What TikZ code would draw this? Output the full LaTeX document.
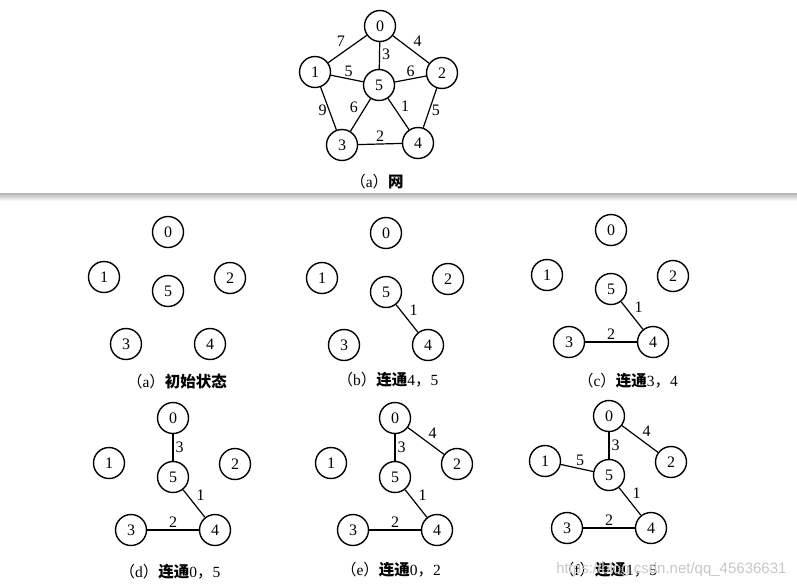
\documentclass[tikz,border=0pt]{standalone}
\usepackage{fontspec}
\setmainfont{Liberation Serif}
\newfontfamily\cjk{Noto Sans CJK SC}
\newfontfamily\wmfont{Liberation Sans}
\newcommand{\zh}[1]{{\cjk #1}}
\begin{document}
\begin{tikzpicture}[x=1pt,y=-1pt,
  vtx/.style={draw,circle,line width=1.4pt,minimum size=31pt,inner sep=0pt,
              font=\fontsize{16}{16}\selectfont},
  edge/.style={line width=1.2pt},
  lbl/.style={inner sep=2pt,font=\fontsize{16}{16}\selectfont},
  captext/.style={font=\fontsize{15.5}{17}\selectfont},
]
\useasboundingbox (0,0) rectangle (797,587);
\fill[top color=black!30,bottom color=white] (0,193) rectangle (797,201);

% the network
\node[vtx] (n0) at (380,26) {0};
\node[vtx] (n1) at (315,72) {1};
\node[vtx] (n2) at (442,73) {2};
\node[vtx] (n3) at (342,145) {3};
\node[vtx] (n4) at (418,143) {4};
\node[vtx] (n5) at (379,85) {5};
\draw[edge] (n0) -- node[lbl,above left] {7} (n1);
\draw[edge] (n0) -- node[lbl,above right] {4} (n2);
\draw[edge] (n0) -- node[lbl,right,pos=0.45] {3} (n5);
\draw[edge] (n1) -- node[lbl,above,pos=0.55] {5} (n5);
\draw[edge] (n5) -- node[lbl,above] {6} (n2);
\draw[edge] (n1) -- node[lbl,left,pos=0.55] {9} (n3);
\draw[edge] (n5) -- node[lbl,above left] {6} (n3);
\draw[edge] (n5) -- node[lbl,above right] {1} (n4);
\draw[edge] (n2) -- node[lbl,right,pos=0.55] {5} (n4);
\draw[edge] (n3) -- node[lbl,above] {2} (n4);
\node[captext] (capn) at (377,182) {\zh{（}a\zh{）\bfseries 网}};

% the six steps
\foreach \p/\x/\y in {a/168/232,b/386/233,c/611/230,d/173/418,e/395/418,f/609/416}{
  \begin{scope}[shift={(\x,\y)}]
    \node[vtx] (\p0) at (0,0) {0};
    \node[vtx] (\p1) at (-64,45) {1};
    \node[vtx] (\p2) at (62,46) {2};
    \node[vtx] (\p3) at (-42,112) {3};
    \node[vtx] (\p4) at (42,112) {4};
    \node[vtx] (\p5) at (0,59) {5};
  \end{scope}
}
\foreach \p in {b,c,d,e,f}
  \draw[edge] (\p5) -- node[lbl,above right] {1} (\p4);
\foreach \p in {c,d,e,f}
  \draw[edge] (\p3) -- node[lbl,above] {2} (\p4);
\foreach \p in {d,e,f}
  \draw[edge] (\p0) -- node[lbl,right] {3} (\p5);
\foreach \p in {e,f}
  \draw[edge] (\p0) -- node[lbl,above right] {4} (\p2);
\draw[edge] (f1) -- node[lbl,above,pos=0.6] {5} (f5);

\node[captext] (capa) at (177,382) {\zh{（}a\zh{）\bfseries 初始状态}};
\node[captext] (capb) at (388,380) {\zh{（}b\zh{）\bfseries 连通}4\zh{，}5};
\node[captext] (capc) at (628,381) {\zh{（}c\zh{）\bfseries 连通}3\zh{，}4};
\node[captext] (capd) at (170,572) {\zh{（}d\zh{）\bfseries 连通}0\zh{，}5};
\node[captext] (cape) at (391,570) {\zh{（}e\zh{）\bfseries 连通}0\zh{，}2};
\node[captext] (capf) at (608,570) {\zh{（}f\zh{）\bfseries 连通}1\zh{，}5};
\node[text=black!22,font=\wmfont\fontsize{15}{15}\selectfont,anchor=east]
  (wm) at (790,570) {https://blog.csdn.net/qq\_45636631};
\end{tikzpicture}
\end{document}
